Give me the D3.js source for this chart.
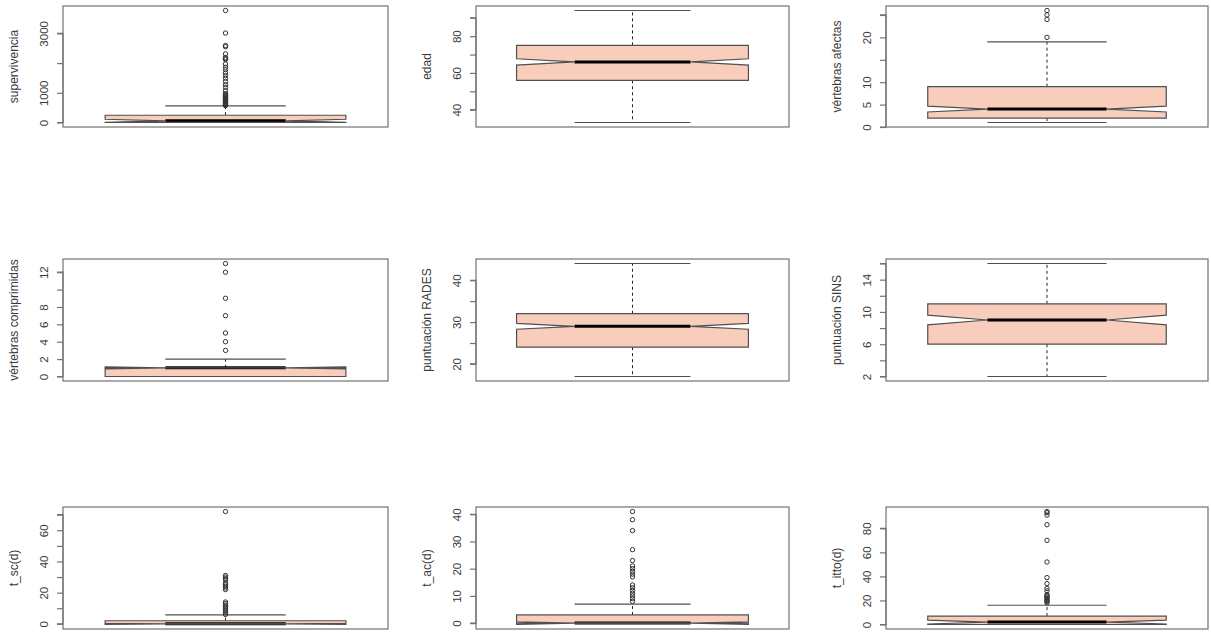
<!DOCTYPE html>
<html>
<head>
<meta charset="utf-8">
<script src="https://cdn.jsdelivr.net/npm/d3@7"></script>
<style>
  body { margin: 0; background: #fff; }
  svg text { font-family: "Liberation Sans", Arial, sans-serif; fill: #3a3a3a; }
</style>
</head>
<body>
<div id="chart"></div>
<script>
// one label per panel, row by row
const panelLabels = ["supervivencia", "edad", "vértebras afectas",
                     "vértebras comprimidas", "puntuación RADES", "puntuación SINS",
                     "t_sc(d)", "t_ac(d)", "t_itto(d)"];

// lower whisker, Q1, median, Q3, upper whisker
const boxStats = [
    [0, 2, 57, 245, 558],
    [33, 56, 66, 75, 94],
    [1, 2, 4, 9, 19],
    [0, 0, 1, 1, 2],
    [17, 24, 29, 32, 44],
    [2, 6, 9, 11, 16],
    [0, 0, 0, 2, 5.7],
    [0, 0, 0, 3, 7],
    [0, 0, 2, 7, 16]
];

// notch limits (median confidence interval)
const notchConf = [
    [5, 109], [64.3, 67.7], [3.35, 4.65],
    [0.88, 1.12], [28.3, 29.7], [8.4, 9.6],
    [-0.4, 0.4], [-0.5, 0.5], [0.4, 3.6]
];

const outliers = [
    [3770, 3010, 2590, 2550, 2310, 2190, 2150, 2120, 1970, 1860, 1780, 1670, 1580, 1490,
     1380, 1270, 1180, 1070, 970, 950, 910, 880, 850, 820, 800, 780, 760, 740, 720, 700,
     680, 660, 640, 620, 600, 585, 570],
    [],
    [26, 25, 24, 20],
    [13, 12, 9, 7, 5, 4, 3],
    [],
    [],
    [72, 31, 30, 29, 28, 26, 25, 24, 23, 22, 14, 13, 12, 11, 10, 9, 8, 7, 6],
    [41, 38, 34, 27, 23, 21, 20, 19, 18, 17, 14, 13, 12, 11, 10, 9, 8],
    [94, 93, 91, 83, 70, 52, 39, 34, 30, 28, 25, 24, 23, 22, 21, 20, 19, 18]
];

const yTicks = [
    [0, 1000, 2000, 3000],
    [40, 50, 60, 70, 80, 90],
    [0, 5, 10, 15, 20, 25],
    [0, 2, 4, 6, 8, 10, 12],
    [20, 25, 30, 35, 40],
    [2, 4, 6, 8, 10, 12, 14, 16],
    [0, 10, 20, 30, 40, 50, 60, 70],
    [0, 10, 20, 30, 40],
    [0, 20, 40, 60, 80]
];

// labels R keeps (the others overlap and are dropped)
const yTickLabels = [
    ["0", "1000", "", "3000"],
    ["40", "", "60", "", "80", ""],
    ["0", "5", "10", "", "20", ""],
    ["0", "2", "4", "6", "8", "", "12"],
    ["20", "", "30", "", "40"],
    ["2", "", "6", "", "10", "", "14", ""],
    ["0", "", "20", "", "40", "", "60", ""],
    ["0", "10", "20", "30", "40"],
    ["0", "20", "40", "60", "80"]
];

// panel frames (pixels)
const colX = [[63, 388], [476, 789], [886, 1208]];
const rowY = [[6, 127], [259, 381], [507, 629]];

const boxFill = "#f9cdbc";
const lineCol = "#505050";
const frameCol = "#727272";

const svg = d3.select("#chart").append("svg")
    .attr("width", 1211)
    .attr("height", 632);

panelLabels.forEach((label, i) => {
    let [x0, x1] = colX[i % 3];
    let [y0, y1] = rowY[Math.floor(i / 3)];
    let s = boxStats[i], conf = notchConf[i], out = outliers[i];

    // R style range: stats, outliers and notches, padded 4%
    let all = s.concat(out, conf);
    let lo = d3.min(all), hi = d3.max(all);
    let pad = (hi - lo) * 0.04;

    let y = d3.scaleLinear().domain([lo - pad, hi + pad]).range([y1, y0]);
    let x = d3.scaleLinear().domain([0.46, 1.54]).range([x0, x1]);

    let g = svg.append("g").attr("class", "panel");

    // y axis
    let yAxis = d3.axisLeft(y)
        .tickValues(yTicks[i])
        .tickSize(6)
        .tickFormat((d, k) => yTickLabels[i][k]);

    let ax = g.append("g")
        .attr("transform", `translate(${x0},0)`)
        .call(yAxis);
    ax.select(".domain")
        .attr("d", `M-6,${y(yTicks[i][0])}H0V${y(yTicks[i][yTicks[i].length - 1])}H-6`)
        .attr("stroke", frameCol)
        .attr("stroke-width", 1.2)
        .attr("fill", "none");
    ax.selectAll(".tick line").attr("stroke", frameCol).attr("stroke-width", 1.2);
    ax.selectAll(".tick text")
        .attr("x", null).attr("dy", null)
        .attr("transform", "translate(-15,0) rotate(-90)")
        .attr("text-anchor", "middle")
        .attr("font-size", 11.5)
        .attr("fill", "#3a3a3a");

    // axis title
    g.append("text")
        .attr("transform", `translate(${x0 - 45},${(y0 + y1) / 2}) rotate(-90)`)
        .attr("text-anchor", "middle")
        .attr("font-size", 12)
        .text(label);

    let xc = 1, w = 0.4, nf = 0.5;
    let stapleW = 0.2;

    // notched box outline
    let pts = [
        [xc - w, s[1]], [xc + w, s[1]], [xc + w, conf[0]], [xc + nf * w, s[2]],
        [xc + w, conf[1]], [xc + w, s[3]], [xc - w, s[3]], [xc - w, conf[1]],
        [xc - nf * w, s[2]], [xc - w, conf[0]]
    ];
    let line = d3.line().x(d => x(d[0])).y(d => y(d[1]));

    // whiskers
    g.append("line")
        .attr("x1", x(xc)).attr("x2", x(xc))
        .attr("y1", y(s[3])).attr("y2", y(s[4]))
        .attr("stroke", "#222").attr("stroke-dasharray", "3,3");
    g.append("line")
        .attr("x1", x(xc)).attr("x2", x(xc))
        .attr("y1", y(s[1])).attr("y2", y(s[0]))
        .attr("stroke", "#222").attr("stroke-dasharray", "3,3");

    g.append("path")
        .attr("d", line(pts) + "Z")
        .attr("fill", boxFill)
        .attr("stroke", "none");

    // median
    g.append("line")
        .attr("x1", x(xc - nf * w)).attr("x2", x(xc + nf * w))
        .attr("y1", y(s[2])).attr("y2", y(s[2]))
        .attr("stroke", "#000").attr("stroke-width", 3);

    g.append("path")
        .attr("d", line(pts) + "Z")
        .attr("fill", "none")
        .attr("stroke", lineCol)
        .attr("stroke-width", 1.2);

    // staples
    [s[0], s[4]].forEach(v => {
        g.append("line")
            .attr("x1", x(xc - stapleW)).attr("x2", x(xc + stapleW))
            .attr("y1", y(v)).attr("y2", y(v))
            .attr("stroke", lineCol)
            .attr("stroke-width", 1.2);
    });

    // outliers
    g.selectAll("circle.out")
        .data(out)
        .enter()
        .append("circle")
        .attr("class", "out")
        .attr("cx", x(xc))
        .attr("cy", d => y(d))
        .attr("r", 2.2)
        .attr("fill", "none")
        .attr("stroke", "#333")
        .attr("stroke-width", 1);

    // frame
    g.append("rect")
        .attr("x", x0).attr("y", y0)
        .attr("width", x1 - x0).attr("height", y1 - y0)
        .attr("fill", "none")
        .attr("stroke", frameCol)
        .attr("stroke-width", 1.2);
});
</script>
</body>
</html>
